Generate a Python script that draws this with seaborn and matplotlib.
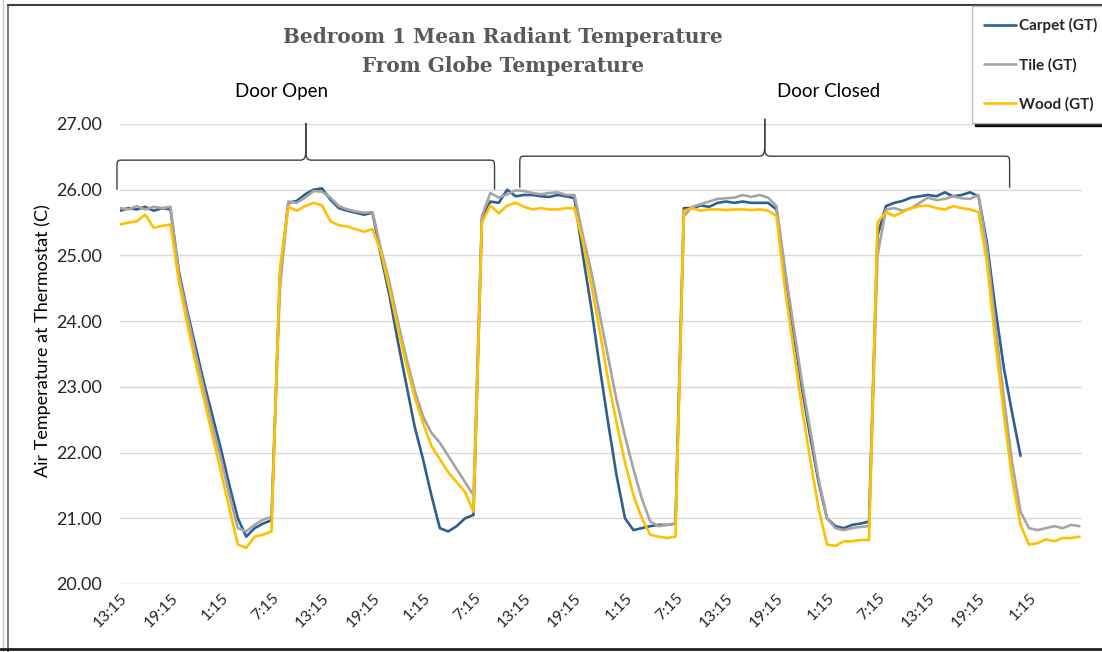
import numpy as np
import pandas as pd
import matplotlib
matplotlib.use("Agg")
import matplotlib.pyplot as plt
from matplotlib.path import Path
from matplotlib.patches import PathPatch
from matplotlib.lines import Line2D
from matplotlib.transforms import ScaledTranslation
import seaborn as sns

# ---------------- data (hourly readings, hour 0 = 13:15) ----------------
hours = np.arange(0, 115)

carpet = [
    25.68, 25.72, 25.70, 25.74, 25.68, 25.72, 25.70,
    24.75, 24.15, 23.60, 23.05, 22.55, 22.05, 21.50, 21.00, 20.72,
    20.85, 20.92, 20.97,
    24.70,
    25.80, 25.83, 25.93, 26.00, 26.02, 25.85, 25.72, 25.68, 25.65, 25.62, 25.65,
    25.00, 24.40, 23.70, 23.05, 22.40, 21.90, 21.35, 20.85, 20.80, 20.88, 21.00, 21.05,
    25.55,
    25.82, 25.80, 26.00, 25.90, 25.92, 25.92, 25.90, 25.89, 25.92, 25.90, 25.87,
    25.00, 24.20, 23.30, 22.45, 21.65, 21.00, 20.82, 20.85, 20.88, 20.90, 20.90, 20.92,
    25.72, 25.72, 25.76, 25.74, 25.80, 25.82, 25.80, 25.82, 25.80, 25.80, 25.80,
    25.70, 24.75, 23.85, 23.00, 22.25, 21.55, 21.00, 20.88, 20.85, 20.90, 20.92, 20.95,
    25.30,
    25.75, 25.80, 25.83, 25.88, 25.90, 25.92, 25.90, 25.96, 25.90, 25.92, 25.96, 25.90,
    25.20, 24.20, 23.30, 22.60, 21.95,
    np.nan, np.nan, np.nan, np.nan, np.nan, np.nan, np.nan,
]

tile = [
    25.72, 25.70, 25.75, 25.70, 25.74, 25.72, 25.74,
    24.70, 24.10, 23.50, 22.95, 22.40, 21.90, 21.35, 20.85, 20.80,
    20.90, 20.98, 21.02,
    24.50,
    25.82, 25.80, 25.88, 25.98, 25.97, 25.88, 25.75, 25.70, 25.67, 25.65, 25.66,
    25.10, 24.60, 24.00, 23.45, 22.95, 22.55, 22.30, 22.15, 21.95, 21.75, 21.55, 21.35,
    25.60,
    25.95, 25.88, 25.93, 25.99, 25.98, 25.95, 25.93, 25.95, 25.96, 25.92, 25.92,
    25.30, 24.75, 24.10, 23.45, 22.80, 22.25, 21.75, 21.30, 20.95, 20.88, 20.90, 20.92,
    25.60, 25.74, 25.78, 25.82, 25.86, 25.87, 25.88, 25.92, 25.89, 25.92, 25.88,
    25.75, 24.80, 23.95, 23.10, 22.35, 21.60, 21.00, 20.85, 20.82, 20.85, 20.87, 20.88,
    25.00,
    25.70, 25.72, 25.68, 25.72, 25.80, 25.88, 25.84, 25.86, 25.90, 25.87, 25.86, 25.92,
    25.10, 23.95, 22.85, 21.85, 21.10, 20.85, 20.82, 20.85, 20.88, 20.85, 20.90, 20.88,
]

wood = [
    25.47, 25.50, 25.52, 25.62, 25.42, 25.45, 25.47,
    24.60, 23.95, 23.35, 22.80, 22.25, 21.70, 21.15, 20.60, 20.55,
    20.72, 20.75, 20.80,
    24.80,
    25.74, 25.68, 25.75, 25.80, 25.76, 25.52, 25.46, 25.44, 25.40, 25.36, 25.40,
    25.05, 24.50, 23.90, 23.35, 22.85, 22.45, 22.10, 21.90, 21.70, 21.55, 21.40, 21.10,
    25.50,
    25.76, 25.64, 25.76, 25.80, 25.74, 25.70, 25.72, 25.70, 25.70, 25.72, 25.72,
    25.20, 24.55, 23.85, 23.10, 22.45, 21.85, 21.35, 21.00, 20.75, 20.72, 20.70, 20.72,
    25.68, 25.72, 25.68, 25.70, 25.70, 25.69, 25.70, 25.70, 25.69, 25.70, 25.68,
    25.60, 24.50, 23.60, 22.70, 21.90, 21.15, 20.60, 20.58, 20.65, 20.65, 20.67, 20.67,
    25.50,
    25.66, 25.60, 25.66, 25.72, 25.75, 25.76, 25.72, 25.70, 25.75, 25.72, 25.70, 25.66,
    24.90, 23.70, 22.60, 21.60, 20.90, 20.60, 20.62, 20.68, 20.65, 20.70, 20.70, 20.72,
]

series_names = ["Carpet (GT)", "Tile (GT)", "Wood (GT)"]
series_colors = ["#2E5F8F", "#A5A5A5", "#FFC000"]

tick_hours = list(range(0, 109, 6))
tick_labels = ["13:15", "19:15", "1:15", "7:15"] * 4 + ["13:15", "19:15", "1:15"]
y_ticks = [20, 21, 22, 23, 24, 25, 26, 27]

door_labels = ["Door Open", "Door Closed"]
door_label_x = [19.2, 84.2]
door_start = [-0.36, 47.5]
door_end = [44.5, 105.7]

title = "Bedroom 1 Mean Radiant Temperature\nFrom Globe Temperature"
y_label = "Air Temperature at Thermostat (C)"

# ---------------- styling ----------------
sns.set_theme(style="white")
plt.rcParams["font.family"] = ["Lato", "DejaVu Sans"]

fig = plt.figure(figsize=(11.02, 6.52), dpi=100)
W, H = 1102, 652
ax = fig.add_axes([120 / W, 1 - 584 / H, (1082 - 120) / W, (584 - 124) / H])

df = pd.DataFrame({"hour": hours, series_names[0]: carpet,
                   series_names[1]: tile, series_names[2]: wood})
long = df.melt(id_vars="hour", var_name="series", value_name="temp")
sns.lineplot(data=long, x="hour", y="temp", hue="series", hue_order=series_names,
             palette=dict(zip(series_names, series_colors)), linewidth=1.9,
             estimator=None, legend=False, ax=ax)

ax.set_xlim(0, 114.3)
ax.set_ylim(20, 27)
ax.set_yticks(y_ticks)
ax.set_yticklabels([f"{v:.2f}" for v in y_ticks], fontsize=13, color="#262626")
ax.set_xticks(tick_hours)
ax.set_xticklabels(tick_labels, rotation=45, ha="right", rotation_mode="anchor",
                   fontsize=11.5, color="#262626")
for lab in ax.get_xticklabels():
    lab.set_transform(lab.get_transform() + ScaledTranslation(7 / 100, 0, fig.dpi_scale_trans))
ax.tick_params(axis="y", length=0, pad=13)
ax.tick_params(axis="x", length=0, pad=5)
ax.grid(axis="y", color="#D9D9D9", linewidth=1.0)
ax.grid(axis="x", visible=False)
for s in ax.spines.values():
    s.set_visible(False)
ax.set_xlabel("")
ax.set_ylabel(y_label, fontsize=13, color="#000000")
ax.yaxis.set_label_coords(-0.072, 0.528)

# ---------------- braces + labels ----------------
def brace(x0, x1, yb, yh, yt, rx=0.7, ry=0.15):
    xm = (x0 + x1) / 2
    verts = [
        (x0, yb), (x0, yh - ry),
        (x0, yh), (x0, yh), (x0 + rx, yh),
        (xm - rx, yh),
        (xm - 0.15 * rx, yh), (xm, yh + 0.3 * ry), (xm, yh + ry),
        (xm, yt),
        (xm, yh + ry),
        (xm, yh + 0.3 * ry), (xm + 0.15 * rx, yh), (xm + rx, yh),
        (x1 - rx, yh),
        (x1, yh), (x1, yh), (x1, yh - ry),
        (x1, yb),
    ]
    codes = [Path.MOVETO, Path.LINETO,
             Path.CURVE4, Path.CURVE4, Path.CURVE4,
             Path.LINETO,
             Path.CURVE4, Path.CURVE4, Path.CURVE4,
             Path.LINETO, Path.LINETO,
             Path.CURVE4, Path.CURVE4, Path.CURVE4,
             Path.LINETO,
             Path.CURVE4, Path.CURVE4, Path.CURVE4,
             Path.LINETO]
    p = PathPatch(Path(verts, codes), facecolor="none", edgecolor="#404040",
                  linewidth=1.0, clip_on=False, transform=ax.transData)
    ax.add_patch(p)

brace(door_start[0], door_end[0], 26.0, 26.45, 27.015)
brace(door_start[1], door_end[1], 26.03, 26.51, 27.08)
for lbl, lx in zip(door_labels, door_label_x):
    ax.text(lx, 27.5, lbl, ha="center", va="center", fontsize=13.5, color="#000000",
            clip_on=False)

fig.text(503 / W, 1 - 37 / H, title.split("\n")[0], ha="center", va="center",
         fontsize=14.4, fontweight="bold", family=["DejaVu Serif"], color="#595959")
fig.text(503 / W, 1 - 66 / H, title.split("\n")[1], ha="center", va="center",
         fontsize=14.4, fontweight="bold", family=["DejaVu Serif"], color="#595959")

# ---------------- legend ----------------
handles = [Line2D([0], [0], color=c, linewidth=1.9) for c in series_colors]
leg = fig.legend(handles, series_names, loc="upper left",
                 bbox_to_anchor=(972 / W, 1 - 6 / H), frameon=True, fancybox=False,
                 shadow={"color": "black", "alpha": 0.9},
                 prop={"weight": "bold", "size": 11, "family": ["Lato", "DejaVu Sans"]},
                 handlelength=2.1, handletextpad=0.2, labelspacing=1.6,
                 borderpad=0.8, borderaxespad=0)
leg.get_frame().set_edgecolor("#BFBFBF")
leg.get_frame().set_linewidth(1.0)

# ---------------- outer frame of the screenshot ----------------
fig.add_artist(Line2D([3 / W, 3 / W], [0, 1], color="#C8C8C8", lw=1.0, transform=fig.transFigure))
fig.add_artist(Line2D([8 / W, 8 / W], [0, 1 - 5 / H], color="#808080", lw=1.5, transform=fig.transFigure))
fig.add_artist(Line2D([8 / W, 1], [1 - 5 / H, 1 - 5 / H], color="#404040", lw=1.5, transform=fig.transFigure))
fig.add_artist(Line2D([0, 1], [1 - 649 / H, 1 - 649 / H], color="#202020", lw=2.0, transform=fig.transFigure))

fig.savefig("out.png", dpi=100, facecolor="white")
